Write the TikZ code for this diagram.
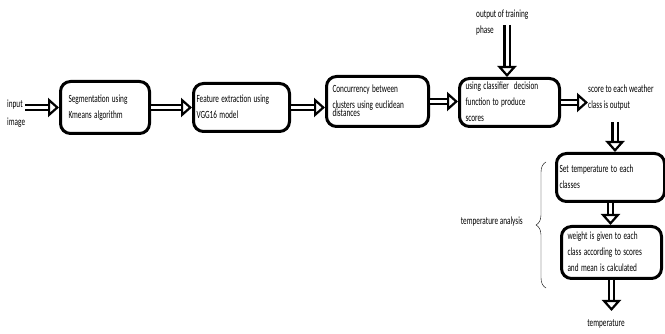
\documentclass[tikz,border=0pt]{standalone}
\usepackage{fontspec}
\usepackage{graphicx}
\setmainfont{Carlito}
\usetikzlibrary{arrows.meta}
\usetikzlibrary{decorations.pathreplacing}

% narrow, tall lettering of the figure
\newcommand{\sq}[1]{\scalebox{0.66}[1]{\begin{tabular}{@{}l@{}}#1\end{tabular}}}

\tikzset{
  box/.style={draw, line width=3pt, rounded corners=10pt, anchor=north west,
    align=left, inner ysep=0pt, font=\fontsize{11}{16}\selectfont},
  flow/.style={line width=2.2pt, double, double distance=3pt,
    -{Triangle[open, fill=white, width=19pt, length=11pt, line width=2.2pt]}},
  lbl/.style={inner sep=0pt, font=\fontsize{11}{16}\selectfont}
}

\begin{document}
\begin{tikzpicture}[x=1pt, y=-1pt]
\useasboundingbox (0,0) rectangle (665,334);

% main chain
\node[box, inner xsep=8pt, text width=73pt, minimum height=52pt] (seg) at (59,80)
  {\sq{Segmentation using\\Kmeans algorithm}};
\node[box, inner xsep=3pt, text width=90pt, minimum height=48pt] (feat) at (192,82)
  {\sq{Feature extraction using\\VGG16 model}};
\node[box, inner xsep=6pt, text width=90pt, minimum height=50pt] (conc) at (325,75)
  {\sq{Concurrency between\\ clusters using euclidean\\[-8pt]distances}};
\node[box, inner xsep=6pt, text width=88pt, minimum height=47pt] (clf) at (458,77)
  {\sq{using classifier\ \ decision\\function to produce\\scores}};

\node[box, inner xsep=3pt, text width=102pt, minimum height=48pt] (settemp) at (555,152)
  {\sq{Set temperature to each\\classes}};
\node[box, inner xsep=6pt, text width=88pt, minimum height=52pt] (weight) at (560,225)
  {\sq{weight is given to each\\class according to scores\\and mean is calculated}};

% free texts
\node[lbl, font=\fontsize{11}{18}\selectfont, anchor=west] (input) at (7,113) {\sq{input\\image}};
\node[lbl, anchor=north west] (train) at (476,6) {\sq{output of training\\phase}};
\node[lbl, anchor=north west] (score) at (588,81) {\sq{score to each weather\\class is output}};
\node[lbl] (temp) at (606,323) {\sq{temperature}};
\node[lbl, anchor=east] (analysis) at (523,221) {\sq{temperature analysis}};

\coordinate (trainend) at (507,25);
\coordinate (scoreend) at (615,122);
\coordinate (tempend) at (614,311);

% arrows
\draw[flow] (input.east |- seg.west) -- (seg.west);
\draw[flow] (seg.east) -- (seg.east -| feat.west);
\draw[flow] (feat.east) -- (feat.east -| conc.west);
\draw[flow] (conc.east) -- (conc.east -| clf.west);
\draw[flow] (trainend) -- (trainend |- clf.north);
\draw[flow] (clf.east) -- (clf.east -| score.west);
\draw[flow] (scoreend) -- (scoreend |- settemp.north);
\draw[flow] (settemp.south) -- (settemp.south |- weight.north);
\draw[flow] (weight.south) -- (weight.south |- tempend);

% brace
\draw[decorate, decoration={brace, amplitude=10pt}] (546,288) -- (546,162);

\end{tikzpicture}
\end{document}
